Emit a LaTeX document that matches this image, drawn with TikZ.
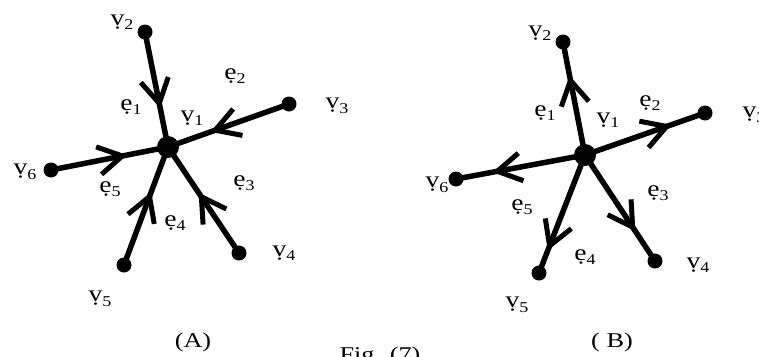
\documentclass[tikz,border=0pt]{standalone}
\usepackage{fontspec}
\setmainfont{Liberation Serif}
\usetikzlibrary{decorations.markings}
\newcommand{\etiq}[2]{\d{#1}\raisebox{-4.5pt}{\fontsize{15}{15}\selectfont #2}}
\tikzset{
  vert/.style={circle, fill, inner sep=0pt, minimum size=15pt},
  hub/.style={circle, fill, inner sep=0pt, minimum size=22pt},
  lbl/.style={inner sep=0pt, transform shape, xscale=1.2, font=\fontsize{23}{23}\selectfont},
  rotulo/.style={inner sep=0pt, anchor=base, transform shape, xscale=1.25, font=\fontsize{21}{21}\selectfont},
  branch/.style={line width=5.5pt, postaction={decorate}, decoration={markings,
    mark=at position #1 with {\draw[line width=5pt] (-24,14) -- (0,0) -- (-24,-14);}}},
  branch/.default=0.6
}
\begin{document}
\begin{tikzpicture}[x=1pt, y=-1pt]
  \useasboundingbox (0,0) rectangle (759,356);
  % el grafo (A): las aristas entran en v1
  \node[hub]  (A1) at (168,147) {};
  \node[vert] (A2) at (145,32) {};
  \node[vert] (A3) at (289,104) {};
  \node[vert] (A4) at (239,253) {};
  \node[vert] (A5) at (124,265) {};
  \node[vert] (A6) at (51,170) {};
  \draw[branch=0.62] (A2.center) -- (A1.center);
  \draw[branch=0.61] (A3.center) -- (A1.center);
  \draw[branch=0.53] (A4.center) -- (A1.center);
  \draw[branch=0.58] (A5.center) -- (A1.center);
  \draw[branch=0.61] (A6.center) -- (A1.center);
  \node[lbl] (lA1) at (192,118) {\etiq{v}{1}};
  \node[lbl] (lA2) at (122,22) {\etiq{v}{2}};
  \node[lbl] (lA3) at (337,106) {\etiq{v}{3}};
  \node[lbl] (lA4) at (284,253) {\etiq{v}{4}};
  \node[lbl] (lA5) at (100,299) {\etiq{v}{5}};
  \node[lbl] (lA6) at (25,172) {\etiq{v}{6}};
  \node[lbl] (eA1) at (131,107) {\etiq{e}{1}};
  \node[lbl] (eA2) at (235,76) {\etiq{e}{2}};
  \node[lbl] (eA3) at (244,183) {\etiq{e}{3}};
  \node[lbl] (eA4) at (175,223) {\etiq{e}{4}};
  \node[lbl] (eA5) at (110,189) {\etiq{e}{5}};
  % el grafo (B): las aristas salen de v1
  \node[hub]  (B1) at (585,155) {};
  \node[vert] (B2) at (563,42) {};
  \node[vert] (B3) at (705,113) {};
  \node[vert] (B4) at (655,261) {};
  \node[vert] (B5) at (539,273) {};
  \node[vert] (B6) at (456,179) {};
  \draw[branch=0.66] (B1.center) -- (B2.center);
  \draw[branch=0.68] (B1.center) -- (B3.center);
  \draw[branch=0.68] (B1.center) -- (B4.center);
  \draw[branch=0.77] (B1.center) -- (B5.center);
  \draw[branch=0.68] (B1.center) -- (B6.center);
  \node[lbl] (lB1) at (608,120) {\etiq{v}{1}};
  \node[lbl] (lB2) at (540,33) {\etiq{v}{2}};
  \node[lbl] (lB3) at (754,115) {\etiq{v}{3}};
  \node[lbl] (lB4) at (698,265) {\etiq{v}{4}};
  \node[lbl] (lB5) at (517,305) {\etiq{v}{5}};
  \node[lbl] (lB6) at (437,185) {\etiq{v}{6}};
  \node[lbl] (eB1) at (545,113) {\etiq{e}{1}};
  \node[lbl] (eB2) at (650,103) {\etiq{e}{2}};
  \node[lbl] (eB3) at (658,193) {\etiq{e}{3}};
  \node[lbl] (eB4) at (585,257) {\etiq{e}{4}};
  \node[lbl] (eB5) at (522,207) {\etiq{e}{5}};
  % los rótulos de abajo
  \node[rotulo] (capA) at (193,347) {(A)};
  \node[rotulo] (capB) at (612,347) {( B)};
  \node[rotulo] (fig) at (380,361) {Fig. (7)};
\end{tikzpicture}
\end{document}
